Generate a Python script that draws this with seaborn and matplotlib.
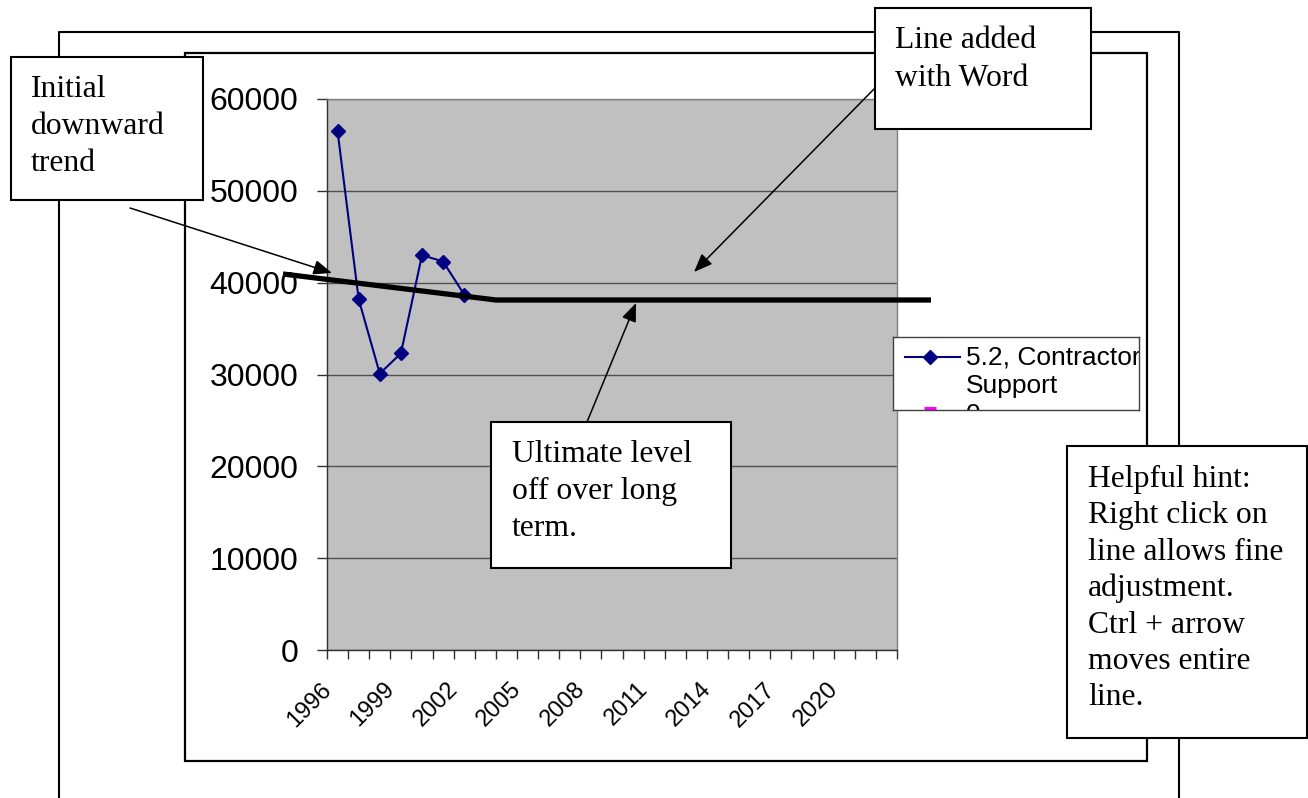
import numpy as np
import matplotlib
matplotlib.use("Agg")
import matplotlib.pyplot as plt
import seaborn as sns
from matplotlib.patches import Rectangle, FancyArrowPatch
from matplotlib.lines import Line2D

# chart data
years = list(range(1996, 2023))
cost_years = [1996, 1997, 1998, 1999, 2000, 2001, 2002]
cost_values = [56500, 38200, 30100, 32300, 43000, 42300, 38700]
series_name = "5.2, Contractor\nSupport"
second_series_name = "0"
tick_labels = ["1996", "1999", "2002", "2005", "2008", "2011", "2014", "2017", "2020"]
y_ticks = [0, 10000, 20000, 30000, 40000, 50000, 60000]

# callout texts added on top of the chart
note_initial = ["Initial", "downward", "trend"]
note_word = ["Line added", "with Word"]
note_level = ["Ultimate level", "off over long", "term."]
note_hint = ["Helpful hint:", "Right click on", "line allows fine", "adjustment.",
             "Ctrl + arrow", "moves entire", "line."]

plt.rcParams["font.family"] = ["Liberation Sans", "DejaVu Sans"]
SERIF = ["Liberation Serif", "DejaVu Serif"]

W, H = 1308, 798
fig = plt.figure(figsize=(W / 100, H / 100), dpi=100)


def fx(x):
    return x / W


def fy(y):
    return 1 - y / H


# outer (Word) frame and the chart area frame
fig.add_artist(Line2D([fx(59), fx(59), fx(1179), fx(1179)],
                      [fy(805), fy(32), fy(32), fy(805)],
                      color="black", lw=1.5, zorder=-2))
fig.add_artist(Rectangle((fx(185), fy(761)), fx(1147) - fx(185), fy(53) - fy(761),
                         transform=fig.transFigure, facecolor="white",
                         edgecolor="black", lw=1.6, zorder=-1))

# plot area
ax = fig.add_axes([fx(327), fy(650), (897 - 327) / W, (650 - 99) / H])
ax.set_facecolor("#C0C0C0")

cost_x = [years.index(y) for y in cost_years]
sns.lineplot(x=cost_x, y=cost_values, ax=ax, color="#000080", lw=1.5,
             marker="D", markersize=6.8, markeredgecolor="#000080",
             markeredgewidth=1, legend=False, zorder=3)

ax.set_yticks(y_ticks)
ax.set_yticklabels([str(v) for v in y_ticks])
ax.yaxis.grid(True, color="#505050", lw=1.0)
ax.xaxis.grid(False)
ax.set_axisbelow(True)
ax.set_xlabel("")
ax.set_ylabel("")

# tick marks between categories, labels on every third category
# (invisible minor ticks carry the rotated labels, nudged left like Excel does)
ax.set_xticks(np.arange(len(years) + 1) - 0.5)
ax.set_xticklabels([])
label_pos = [years.index(int(t)) - 0.45 for t in tick_labels]
ax.set_xticks(label_pos, minor=True)
ax.set_xticklabels(tick_labels, minor=True, rotation=45, ha="right",
                   rotation_mode="anchor", va="center", fontsize=17)
ax.tick_params(axis="x", which="minor", length=0, pad=26)
ax.tick_params(axis="x", which="major", length=6.5, width=1, color="#303030")
ax.tick_params(axis="y", length=7, width=1, color="#303030", pad=13.5, labelsize=23)

# limits last, so the tick setters cannot widen them
ax.set_xlim(-0.5, len(years) - 0.5)
ax.set_ylim(0, 60000)

for side in ["left", "bottom"]:
    ax.spines[side].set_color("#303030")
    ax.spines[side].set_linewidth(1)
for side in ["top", "right"]:
    ax.spines[side].set_color("#808080")
    ax.spines[side].set_linewidth(1)

# the line drawn by hand in Word
fig.add_artist(Line2D([fx(283), fx(496), fx(931)], [fy(274), fy(300), fy(300)],
                      color="black", lw=3.8, zorder=4, solid_capstyle="butt"))

# legend box (clipped, as in the original)
lax = fig.add_axes([fx(893), fy(410), (1139 - 893) / W, (410 - 337) / H], zorder=2)
lax.set_xlim(0, 246)
lax.set_ylim(73, 0)
lax.set_xticks([])
lax.set_yticks([])
lax.set_facecolor("white")
for s in lax.spines.values():
    s.set_color("#404040")
    s.set_linewidth(1)
lax.plot([12, 67], [20, 20], color="#000080", lw=1.5)
lax.plot([37], [20], marker="D", markersize=6.8, color="#000080")
name_lines = series_name.split("\n")
lax.text(73, 20, name_lines[0], va="center", fontsize=19, clip_on=True)
lax.text(73, 49, name_lines[1], va="center", fontsize=19, clip_on=True)
lax.text(73, 78, second_series_name, va="center", fontsize=19, clip_on=True)
lax.plot([31, 43], [70.5, 70.5], color="#FF00FF", lw=2.2, solid_capstyle="butt")


def callout(x0, y0, x1, y1, lines, tx, base0, dy):
    fig.add_artist(Rectangle((fx(x0), fy(y1)), fx(x1) - fx(x0), fy(y0) - fy(y1),
                             transform=fig.transFigure, facecolor="white",
                             edgecolor="black", lw=1.5, zorder=6))
    for i, line in enumerate(lines):
        fig.text(fx(tx), fy(base0 + i * dy), line, family=SERIF, fontsize=22.8,
                 va="baseline", ha="left", zorder=7)


def arrow(x0, y0, x1, y1):
    fig.add_artist(FancyArrowPatch((fx(x0), fy(y0)), (fx(x1), fy(y1)),
                                   transform=fig.transFigure,
                                   arrowstyle="-|>,head_length=0.75,head_width=0.3",
                                   mutation_scale=15, color="black", lw=1.1,
                                   shrinkA=0, shrinkB=0, zorder=8))


callout(11, 57, 203, 200, note_initial, 31, 97, 37)
callout(875, 8, 1091, 129, note_word, 895, 48, 38)
callout(491, 422, 731, 568, note_level, 512, 462, 37)
callout(1067, 446, 1307, 738, note_hint, 1088, 487, 36.4)

arrow(130, 208, 332, 273)
arrow(875, 88, 694, 272)
arrow(587, 422, 636, 303)

fig.savefig("out.png", dpi=100)
